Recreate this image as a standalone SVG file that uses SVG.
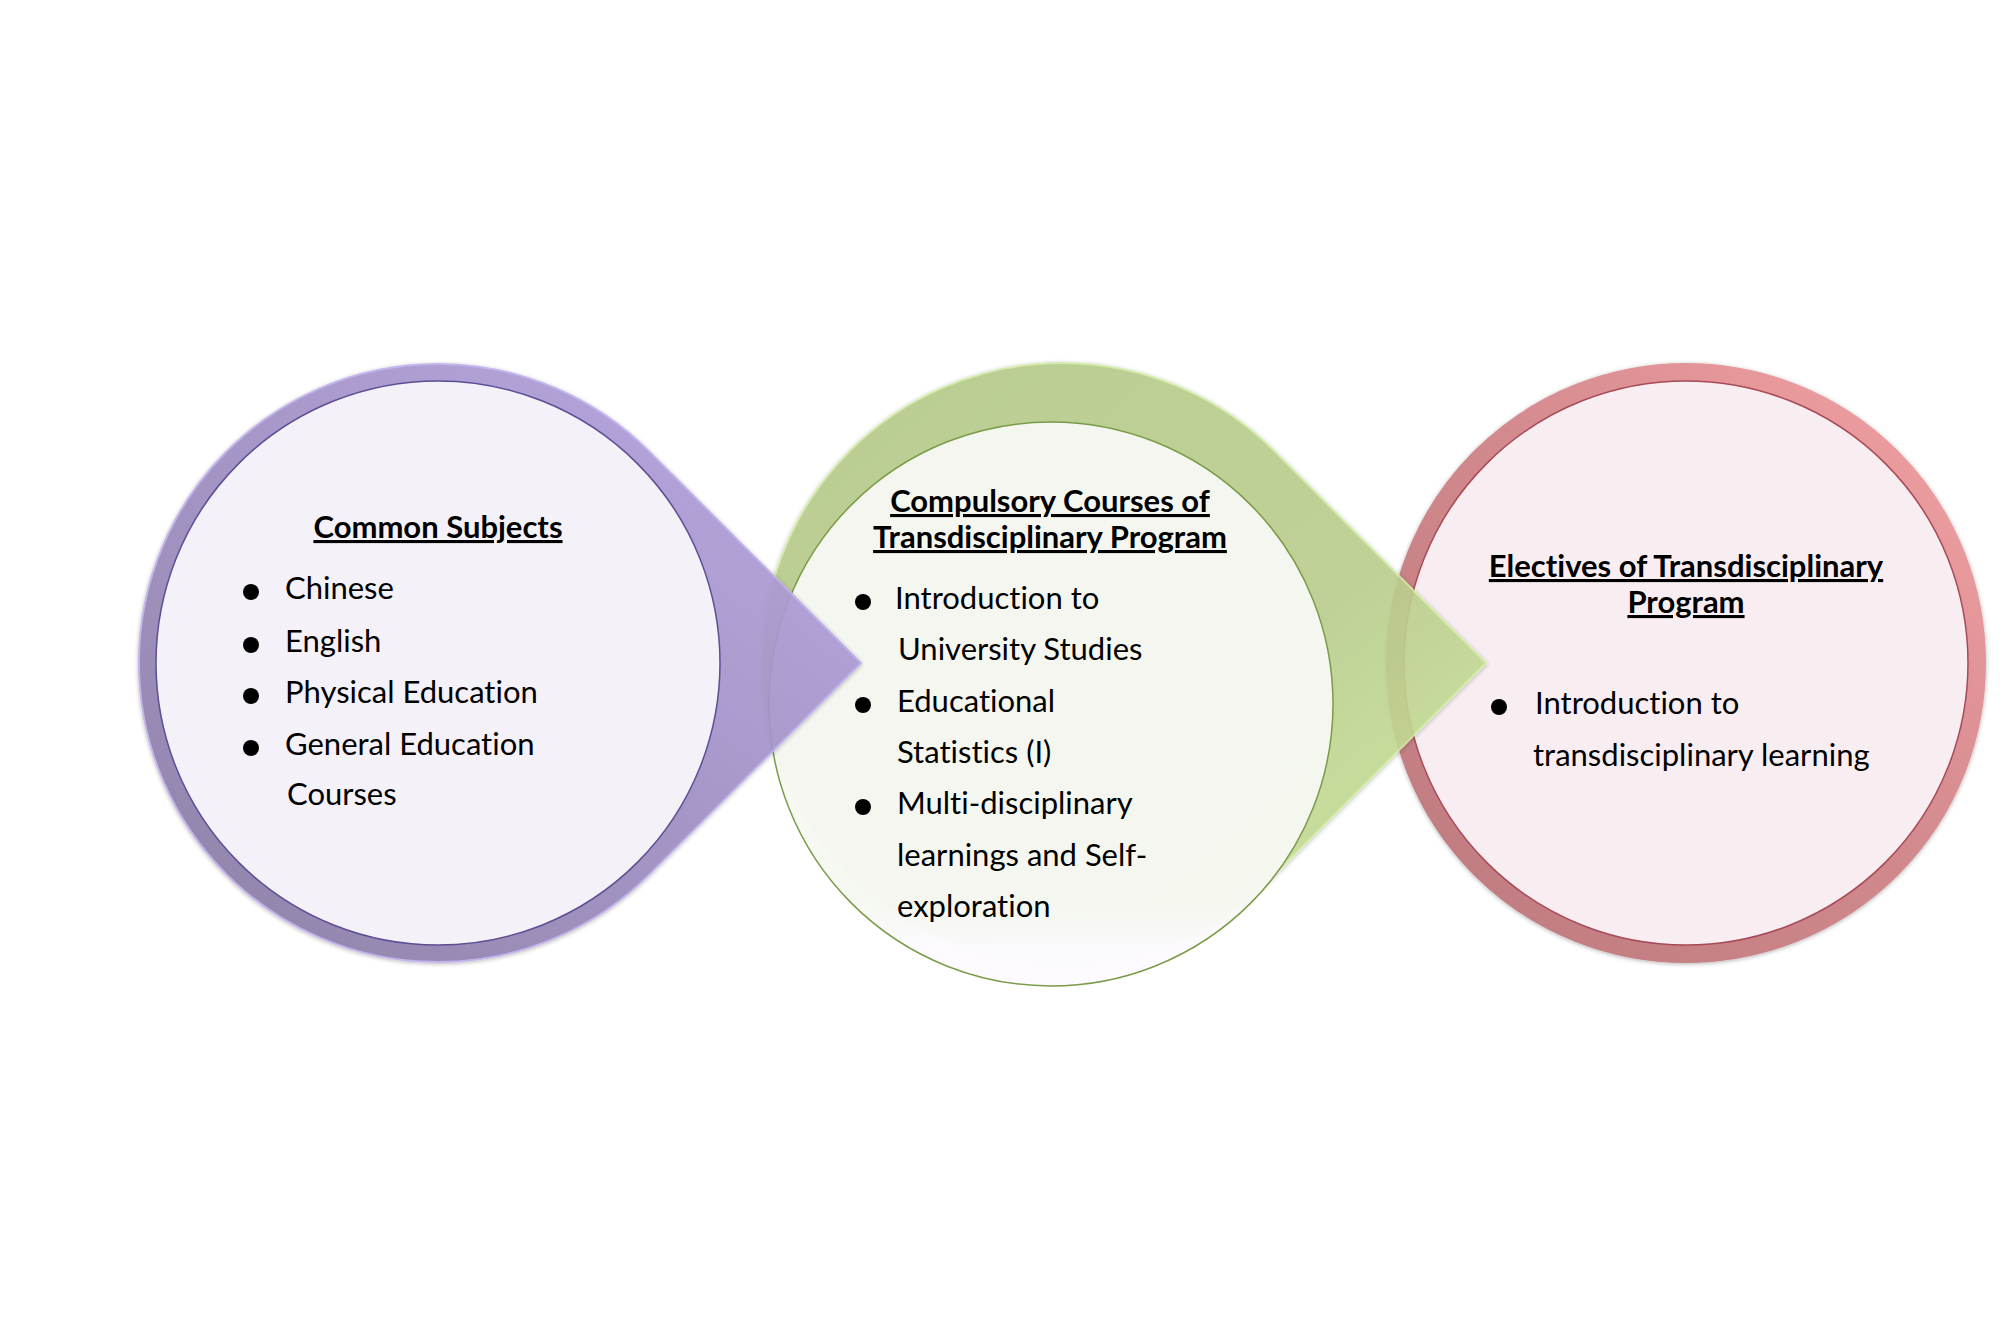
<svg xmlns="http://www.w3.org/2000/svg" width="2000" height="1327" viewBox="0 0 2000 1327">
<defs>
  <linearGradient id="gPurple" x1="0" y1="1" x2="1" y2="0">
    <stop offset="0" stop-color="#85779F"/>
    <stop offset="0.5" stop-color="#9F8EC3"/>
    <stop offset="1" stop-color="#B6A3E2"/>
  </linearGradient>
  <linearGradient id="gGreen" x1="0" y1="0" x2="1" y2="1">
    <stop offset="0" stop-color="#B2C786"/>
    <stop offset="0.6" stop-color="#B9CD8C"/>
    <stop offset="1" stop-color="#CDE99A"/>
  </linearGradient>
  <linearGradient id="gPink" x1="0" y1="1" x2="1" y2="0">
    <stop offset="0" stop-color="#BC7A7E"/>
    <stop offset="0.5" stop-color="#D0888C"/>
    <stop offset="1" stop-color="#F4A2A4"/>
  </linearGradient>
  <linearGradient id="gMidInner" x1="0" y1="0" x2="0" y2="1">
    <stop offset="0" stop-color="#F6F8F2"/>
    <stop offset="0.86" stop-color="#F6F8F2"/>
    <stop offset="0.93" stop-color="#FCFAFE"/>
    <stop offset="1" stop-color="#FDFBFF"/>
  </linearGradient>
  <filter id="shadow" x="-10%" y="-10%" width="120%" height="120%">
    <feDropShadow dx="0" dy="1" stdDeviation="2" flood-color="#000" flood-opacity="0.3"/>
  </filter>
</defs>
<style>
  text { font-family: "Lato", "Liberation Sans", sans-serif; fill: #000; font-variant-ligatures: none; }
  .t { font-size: 31px; }
  .h { font-size: 31px; font-weight: bold; text-decoration: underline; }
  .bul { fill: #000; }
</style>

<g id="node-electives">
  <circle cx="1686" cy="663" r="291" fill="none" stroke="url(#gPink)" stroke-width="18" filter="url(#shadow)"/>
  <circle cx="1686" cy="663" r="282" fill="#F8EEF2" stroke="#A84A58" stroke-width="1.5"/>
</g>

<g id="node-compulsory">
  <path d="M1486 663 L1274.1 875.1 A300 300 0 1 1 1274.1 450.9 Z" fill="url(#gGreen)" opacity="0.9" stroke="#D2EBA6" stroke-width="2" filter="url(#shadow)"/>
  <circle cx="1051" cy="704" r="282" fill="url(#gMidInner)" fill-opacity="0.97" stroke="#7A9C48" stroke-width="1.5"/>
</g>

<g id="node-common">
  <path d="M861 663 L649.4 874.4 A299 299 0 1 1 649.4 451.6 Z" fill="url(#gPurple)" opacity="0.92" stroke="#BEAEEA" stroke-width="2" filter="url(#shadow)"/>
  <circle cx="438" cy="663" r="282" fill="#F4F1F8" stroke="#5E4E96" stroke-width="1.5"/>
</g>

<g id="labels">
  <text class="h" x="438" y="538" text-anchor="middle">Common Subjects</text>
  <circle class="bul" cx="251" cy="592" r="8"/>
  <text class="t" x="285" y="599">Chinese</text>
  <circle class="bul" cx="251" cy="645" r="8"/>
  <text class="t" x="285" y="652">English</text>
  <circle class="bul" cx="251" cy="696" r="8"/>
  <text class="t" x="285" y="703">Physical Education</text>
  <circle class="bul" cx="251" cy="748" r="8"/>
  <text class="t" x="285" y="755">General Education</text>
  <text class="t" x="287" y="805">Courses</text>

  <text class="h" x="1050" y="512" text-anchor="middle">Compulsory Courses of</text>
  <text class="h" x="1050" y="548" text-anchor="middle">Transdisciplinary Program</text>
  <circle class="bul" cx="863" cy="602" r="8"/>
  <text class="t" x="895" y="609">Introduction to</text>
  <text class="t" x="898" y="660">University Studies</text>
  <circle class="bul" cx="863" cy="705" r="8"/>
  <text class="t" x="897" y="712">Educational</text>
  <text class="t" x="897" y="763">Statistics (I)</text>
  <circle class="bul" cx="863" cy="807" r="8"/>
  <text class="t" x="897" y="814">Multi-disciplinary</text>
  <text class="t" x="897" y="866">learnings and Self-</text>
  <text class="t" x="897" y="917">exploration</text>

  <text class="h" x="1686" y="577" text-anchor="middle">Electives of Transdisciplinary</text>
  <text class="h" x="1686" y="613" text-anchor="middle">Program</text>
  <circle class="bul" cx="1499" cy="707" r="8"/>
  <text class="t" x="1535" y="714">Introduction to</text>
  <text class="t" x="1533" y="766">transdisciplinary learning</text>
</g>
</svg>
